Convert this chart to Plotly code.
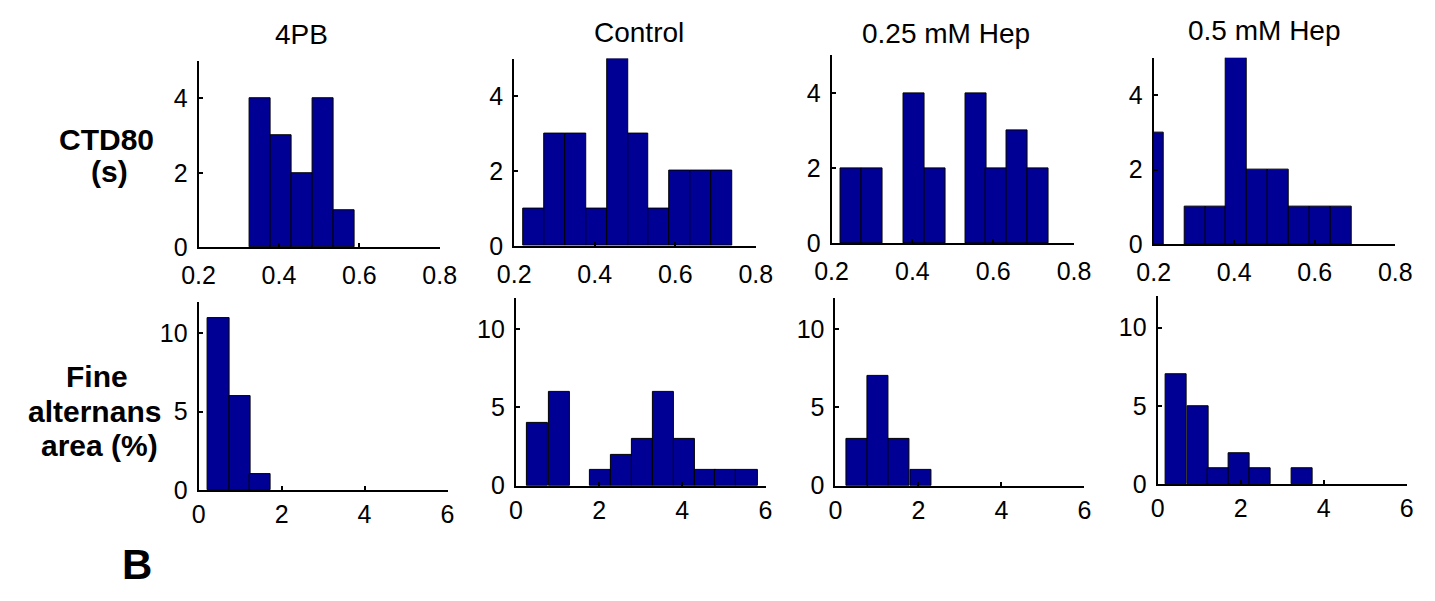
import plotly.graph_objects as go

W, H = 1435, 601

titles = ["4PB", "Control", "0.25 mM Hep", "0.5 mM Hep"]
row1_label = ["CTD80", "(s)"]
row2_label = ["Fine", "alternans", "area (%)"]
panel_letter = "B"

# Row 1: CTD80 (s) histograms (bin centres, counts)
ctd_x_4pb = [0.354, 0.406, 0.458, 0.510, 0.561]
ctd_n_4pb = [4, 3, 2, 4, 1]
ctd_x_ctrl = [0.248, 0.300, 0.352, 0.404, 0.456, 0.508, 0.560, 0.612, 0.664, 0.716]
ctd_n_ctrl = [1, 3, 3, 1, 5, 3, 1, 2, 2, 2]
ctd_x_h025 = [0.249, 0.301, 0.352, 0.403, 0.455, 0.506, 0.557, 0.608, 0.660, 0.711]
ctd_n_h025 = [2, 2, 0, 4, 2, 0, 4, 2, 3, 2]
ctd_x_h05 = [0.198, 0.250, 0.302, 0.354, 0.406, 0.458, 0.510, 0.562, 0.614, 0.666]
ctd_n_h05 = [3, 0, 1, 1, 5, 2, 2, 1, 1, 1]

# Row 2: Fine alternans area (%) histograms
fa_x_4pb = [0.48, 0.99, 1.49]
fa_n_4pb = [11, 6, 1]
fa_x_ctrl = [0.52, 1.04, 1.54, 2.03, 2.54, 3.04, 3.54, 4.05, 4.55, 5.04, 5.55]
fa_n_ctrl = [4, 6, 0, 1, 2, 3, 6, 3, 1, 1, 1]
fa_x_h025 = [0.53, 1.03, 1.54, 2.06]
fa_n_h025 = [3, 7, 3, 1]
fa_x_h05 = [0.45, 0.97, 1.47, 1.96, 2.47, 2.97, 3.48]
fa_n_h05 = [7, 5, 1, 2, 1, 0, 1]

ctd_ticks = [0.2, 0.4, 0.6, 0.8]
ctd_yticks = [0, 2, 4]
fa_ticks = [0, 2, 4, 6]
fa_yticks = [0, 5, 10]

panels = [
    (ctd_x_4pb, ctd_n_4pb), (ctd_x_ctrl, ctd_n_ctrl), (ctd_x_h025, ctd_n_h025), (ctd_x_h05, ctd_n_h05),
    (fa_x_4pb, fa_n_4pb), (fa_x_ctrl, fa_n_ctrl), (fa_x_h025, fa_n_h025), (fa_x_h05, fa_n_h05),
]

# pixel boxes (x0, x1, ytop, ybottom)
boxes = [
    (186, 433, 62.7, 253.3), (509.3, 756.7, 60, 251.7), (834.3, 1082.7, 56.7, 249.3), (1164.3, 1411.7, 59, 250),
    (186, 441, 309.3, 501.7), (511, 766.7, 305, 497.3), (838.3, 1093.3, 305, 497.3), (1168.3, 1423.3, 303.3, 495.7),
]

FONT = "Liberation Sans, Arial, sans-serif"
BAR_COLOR = "#000094"
FS = 25

fig = go.Figure()
layout = dict(
    width=W, height=H, margin=dict(l=0, r=0, t=0, b=0),
    paper_bgcolor="white", plot_bgcolor="white", showlegend=False,
    font=dict(family=FONT, size=FS, color="black"),
    bargap=0,
)

for i, ((xs, ns), (x0, x1, yt, yb)) in enumerate(zip(panels, boxes)):
    k = i + 1
    xa = "x" if k == 1 else f"x{k}"
    ya = "y" if k == 1 else f"y{k}"
    top = i < 4
    fig.add_trace(go.Bar(
        x=xs, y=ns, width=0.052 if top else 0.51,
        marker=dict(color=BAR_COLOR,
                    line=dict(color="black", width=[1 if n > 0 else 0 for n in ns])),
        xaxis=xa, yaxis=ya, hoverinfo="x+y",
    ))
    axcommon = dict(showline=True, linecolor="black", linewidth=2, showgrid=False, zeroline=False,
                    ticks="inside", ticklen=4, tickwidth=1.5, tickcolor="black",
                    tickfont=dict(family=FONT, size=FS, color="black"), mirror=False)
    layout["xaxis" if k == 1 else f"xaxis{k}"] = dict(
        domain=[x0 / W, x1 / W], anchor=ya,
        range=[0.2, 0.8] if top else [0, 6],
        tickvals=ctd_ticks if top else fa_ticks,
        ticktext=[f"{v:g}" for v in (ctd_ticks if top else fa_ticks)],
        ticklabelstandoff=5 if top else 1,
        **axcommon)
    layout["yaxis" if k == 1 else f"yaxis{k}"] = dict(
        domain=[1 - yb / H, 1 - yt / H], anchor=xa,
        range=[0, 5] if top else [0, 12],
        tickvals=ctd_yticks if top else fa_yticks,
        ticklabelstandoff=4,
        **axcommon)

annotations = []
title_x = [291, 637, 952, 1278]
title_y = [35, 33, 34, 31]
for t, xc, yc in zip(titles, title_x, title_y):
    annotations.append(dict(text=t, x=xc / W, y=1 - yc / H, xref="paper", yref="paper",
                            showarrow=False, xanchor="center", yanchor="middle",
                            font=dict(family=FONT, size=28, color="black")))

for txt, xc, yc in zip(row1_label, [92, 95], [143, 176]):
    annotations.append(dict(text=f"<b>{txt}</b>", x=xc / W, y=1 - yc / H, xref="paper", yref="paper",
                            showarrow=False, xanchor="center", yanchor="middle",
                            font=dict(family=FONT, size=30, color="black")))
for txt, xc, yc in zip(row2_label, [82, 79, 85], [385, 421, 456]):
    annotations.append(dict(text=f"<b>{txt}</b>", x=xc / W, y=1 - yc / H, xref="paper", yref="paper",
                            showarrow=False, xanchor="center", yanchor="middle",
                            font=dict(family=FONT, size=30, color="black")))
annotations.append(dict(text=f"<b>{panel_letter}</b>", x=123 / W, y=1 - 578 / H, xref="paper", yref="paper",
                        showarrow=False, xanchor="center", yanchor="middle",
                        font=dict(family=FONT, size=42, color="black")))
layout["annotations"] = annotations

fig.update_layout(**layout)
fig.write_html("out.html")
